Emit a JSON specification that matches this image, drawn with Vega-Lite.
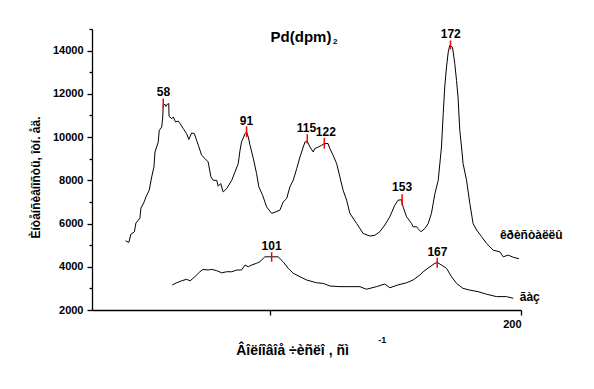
{
  "$schema": "https://vega.github.io/schema/vega-lite/v6.json",
  "width": 429,
  "height": 281,
  "autosize": {"type": "none"},
  "padding": {"left": 92, "top": 29, "right": 73, "bottom": 79},
  "background": "white",
  "config": {
    "view": {"stroke": null},
    "font": "Liberation Sans",
    "axis": {"grid": false, "domainColor": "black", "tickColor": "black", "labelColor": "black", "titleColor": "black", "labelFont": "Liberation Sans", "titleFont": "Liberation Sans", "labelFontWeight": "bold", "titleFontWeight": "bold", "domainWidth": 1.3, "tickWidth": 1.3}
  },
  "datasets": {
    "curves": [
      {"s": "crystal", "x": 42.4, "y": 5200}, {"s": "crystal", "x": 43.7, "y": 5130}, {"s": "crystal", "x": 44.5, "y": 5510}, {"s": "crystal", "x": 45.9, "y": 5620},
      {"s": "crystal", "x": 46.5, "y": 6020}, {"s": "crystal", "x": 48.1, "y": 6250}, {"s": "crystal", "x": 48.5, "y": 6710}, {"s": "crystal", "x": 49.8, "y": 7000},
      {"s": "crystal", "x": 50.5, "y": 7230}, {"s": "crystal", "x": 51.8, "y": 7540}, {"s": "crystal", "x": 52.8, "y": 8160}, {"s": "crystal", "x": 53.7, "y": 8620},
      {"s": "crystal", "x": 54.1, "y": 9310}, {"s": "crystal", "x": 55.4, "y": 9770}, {"s": "crystal", "x": 55.8, "y": 10310}, {"s": "crystal", "x": 56.8, "y": 10470},
      {"s": "crystal", "x": 57.2, "y": 10930}, {"s": "crystal", "x": 57.4, "y": 11470}, {"s": "crystal", "x": 58.1, "y": 11515}, {"s": "crystal", "x": 58.5, "y": 11420},
      {"s": "crystal", "x": 59.0, "y": 11515}, {"s": "crystal", "x": 59.6, "y": 11550}, {"s": "crystal", "x": 59.7, "y": 10960}, {"s": "crystal", "x": 60.8, "y": 10850},
      {"s": "crystal", "x": 61.4, "y": 10930}, {"s": "crystal", "x": 62.3, "y": 10700}, {"s": "crystal", "x": 63.4, "y": 10740}, {"s": "crystal", "x": 64.1, "y": 10620},
      {"s": "crystal", "x": 65.4, "y": 10390}, {"s": "crystal", "x": 66.7, "y": 10160}, {"s": "crystal", "x": 67.6, "y": 9890}, {"s": "crystal", "x": 68.7, "y": 10190},
      {"s": "crystal", "x": 69.8, "y": 10160}, {"s": "crystal", "x": 70.7, "y": 9850}, {"s": "crystal", "x": 71.4, "y": 9620}, {"s": "crystal", "x": 72.7, "y": 9160},
      {"s": "crystal", "x": 74.0, "y": 9010}, {"s": "crystal", "x": 75.3, "y": 8850}, {"s": "crystal", "x": 76.4, "y": 8160}, {"s": "crystal", "x": 77.3, "y": 8000},
      {"s": "crystal", "x": 78.7, "y": 8000}, {"s": "crystal", "x": 79.3, "y": 7730}, {"s": "crystal", "x": 80.3, "y": 7850}, {"s": "crystal", "x": 81.3, "y": 7460},
      {"s": "crystal", "x": 82.7, "y": 7620}, {"s": "crystal", "x": 84.7, "y": 8000}, {"s": "crystal", "x": 86.0, "y": 8390}, {"s": "crystal", "x": 87.3, "y": 8780},
      {"s": "crystal", "x": 88.0, "y": 9390}, {"s": "crystal", "x": 88.6, "y": 9770}, {"s": "crystal", "x": 90.0, "y": 10160}, {"s": "crystal", "x": 90.6, "y": 10240},
      {"s": "crystal", "x": 91.3, "y": 10000}, {"s": "crystal", "x": 92.0, "y": 9620}, {"s": "crystal", "x": 93.3, "y": 9010}, {"s": "crystal", "x": 94.6, "y": 8310},
      {"s": "crystal", "x": 95.5, "y": 7700}, {"s": "crystal", "x": 97.0, "y": 7310}, {"s": "crystal", "x": 98.6, "y": 6770}, {"s": "crystal", "x": 100.6, "y": 6470},
      {"s": "crystal", "x": 102.3, "y": 6540}, {"s": "crystal", "x": 103.9, "y": 6620}, {"s": "crystal", "x": 105.2, "y": 7000}, {"s": "crystal", "x": 106.6, "y": 7160},
      {"s": "crystal", "x": 107.9, "y": 7700}, {"s": "crystal", "x": 109.2, "y": 8000}, {"s": "crystal", "x": 110.6, "y": 8540}, {"s": "crystal", "x": 111.9, "y": 9080},
      {"s": "crystal", "x": 113.2, "y": 9540}, {"s": "crystal", "x": 113.9, "y": 9770}, {"s": "crystal", "x": 114.8, "y": 9800}, {"s": "crystal", "x": 115.9, "y": 9540},
      {"s": "crystal", "x": 117.2, "y": 9310}, {"s": "crystal", "x": 117.8, "y": 9470}, {"s": "crystal", "x": 119.2, "y": 9540}, {"s": "crystal", "x": 120.5, "y": 9620},
      {"s": "crystal", "x": 121.6, "y": 9700}, {"s": "crystal", "x": 123.1, "y": 9700}, {"s": "crystal", "x": 123.8, "y": 9470}, {"s": "crystal", "x": 125.1, "y": 9160},
      {"s": "crystal", "x": 126.5, "y": 8780}, {"s": "crystal", "x": 127.8, "y": 8160}, {"s": "crystal", "x": 129.1, "y": 7540}, {"s": "crystal", "x": 130.5, "y": 7080},
      {"s": "crystal", "x": 131.8, "y": 6470}, {"s": "crystal", "x": 134.5, "y": 6000}, {"s": "crystal", "x": 137.1, "y": 5540}, {"s": "crystal", "x": 139.8, "y": 5420},
      {"s": "crystal", "x": 141.8, "y": 5460}, {"s": "crystal", "x": 143.7, "y": 5620}, {"s": "crystal", "x": 145.7, "y": 5930}, {"s": "crystal", "x": 147.7, "y": 6310},
      {"s": "crystal", "x": 149.7, "y": 6850}, {"s": "crystal", "x": 151.0, "y": 7080}, {"s": "crystal", "x": 152.4, "y": 7100}, {"s": "crystal", "x": 153.0, "y": 6770},
      {"s": "crystal", "x": 154.4, "y": 6310}, {"s": "crystal", "x": 156.4, "y": 6000}, {"s": "crystal", "x": 157.0, "y": 5850}, {"s": "crystal", "x": 158.4, "y": 5850},
      {"s": "crystal", "x": 158.9, "y": 5770}, {"s": "crystal", "x": 160.1, "y": 5620}, {"s": "crystal", "x": 161.7, "y": 5770}, {"s": "crystal", "x": 163.0, "y": 6000},
      {"s": "crystal", "x": 164.3, "y": 6470}, {"s": "crystal", "x": 165.7, "y": 7390}, {"s": "crystal", "x": 167.0, "y": 8000}, {"s": "crystal", "x": 168.3, "y": 9540},
      {"s": "crystal", "x": 169.0, "y": 11090}, {"s": "crystal", "x": 169.6, "y": 12310}, {"s": "crystal", "x": 170.3, "y": 13240}, {"s": "crystal", "x": 171.0, "y": 13930},
      {"s": "crystal", "x": 171.6, "y": 14240}, {"s": "crystal", "x": 172.7, "y": 14160}, {"s": "crystal", "x": 173.6, "y": 13400}, {"s": "crystal", "x": 174.3, "y": 12620},
      {"s": "crystal", "x": 174.9, "y": 11850}, {"s": "crystal", "x": 175.6, "y": 10310}, {"s": "crystal", "x": 176.3, "y": 9540}, {"s": "crystal", "x": 176.9, "y": 8780},
      {"s": "crystal", "x": 178.3, "y": 8000}, {"s": "crystal", "x": 179.6, "y": 6930}, {"s": "crystal", "x": 180.9, "y": 6000}, {"s": "crystal", "x": 182.3, "y": 5700},
      {"s": "crystal", "x": 184.3, "y": 5390}, {"s": "crystal", "x": 186.3, "y": 5080}, {"s": "crystal", "x": 188.9, "y": 4770}, {"s": "crystal", "x": 191.6, "y": 4690},
      {"s": "crystal", "x": 192.9, "y": 4460}, {"s": "crystal", "x": 194.9, "y": 4540}, {"s": "crystal", "x": 196.9, "y": 4440}, {"s": "crystal", "x": 199.2, "y": 4370},
      {"s": "gas", "x": 61.0, "y": 3160}, {"s": "gas", "x": 62.8, "y": 3260}, {"s": "gas", "x": 64.7, "y": 3350}, {"s": "gas", "x": 66.7, "y": 3420},
      {"s": "gas", "x": 68.1, "y": 3350}, {"s": "gas", "x": 70.0, "y": 3540}, {"s": "gas", "x": 72.0, "y": 3770}, {"s": "gas", "x": 73.3, "y": 3880},
      {"s": "gas", "x": 75.3, "y": 3850}, {"s": "gas", "x": 76.7, "y": 3880}, {"s": "gas", "x": 78.7, "y": 3820}, {"s": "gas", "x": 80.7, "y": 3720},
      {"s": "gas", "x": 82.7, "y": 3770}, {"s": "gas", "x": 84.7, "y": 3770}, {"s": "gas", "x": 86.7, "y": 3850}, {"s": "gas", "x": 88.6, "y": 3850},
      {"s": "gas", "x": 90.0, "y": 4080}, {"s": "gas", "x": 91.3, "y": 4000}, {"s": "gas", "x": 92.6, "y": 4080}, {"s": "gas", "x": 94.6, "y": 4160},
      {"s": "gas", "x": 95.9, "y": 4230}, {"s": "gas", "x": 97.9, "y": 4460}, {"s": "gas", "x": 100.6, "y": 4460}, {"s": "gas", "x": 103.2, "y": 4460},
      {"s": "gas", "x": 105.2, "y": 4230}, {"s": "gas", "x": 107.2, "y": 3930}, {"s": "gas", "x": 109.2, "y": 3700}, {"s": "gas", "x": 111.9, "y": 3540},
      {"s": "gas", "x": 114.5, "y": 3390}, {"s": "gas", "x": 118.5, "y": 3260}, {"s": "gas", "x": 121.2, "y": 3230}, {"s": "gas", "x": 123.8, "y": 3110},
      {"s": "gas", "x": 127.8, "y": 3080}, {"s": "gas", "x": 131.8, "y": 3080}, {"s": "gas", "x": 135.8, "y": 3080}, {"s": "gas", "x": 138.4, "y": 2960},
      {"s": "gas", "x": 142.4, "y": 3080}, {"s": "gas", "x": 145.7, "y": 3200}, {"s": "gas", "x": 147.7, "y": 3030}, {"s": "gas", "x": 151.0, "y": 3160},
      {"s": "gas", "x": 154.4, "y": 3260}, {"s": "gas", "x": 157.0, "y": 3390}, {"s": "gas", "x": 159.7, "y": 3620}, {"s": "gas", "x": 161.0, "y": 3770},
      {"s": "gas", "x": 163.7, "y": 4000}, {"s": "gas", "x": 165.7, "y": 4160}, {"s": "gas", "x": 166.6, "y": 4200}, {"s": "gas", "x": 168.3, "y": 4080},
      {"s": "gas", "x": 170.3, "y": 3930}, {"s": "gas", "x": 172.3, "y": 3540}, {"s": "gas", "x": 174.3, "y": 3230}, {"s": "gas", "x": 176.9, "y": 3000},
      {"s": "gas", "x": 179.6, "y": 2920}, {"s": "gas", "x": 182.9, "y": 2850}, {"s": "gas", "x": 186.3, "y": 2730}, {"s": "gas", "x": 190.2, "y": 2620},
      {"s": "gas", "x": 194.2, "y": 2620}, {"s": "gas", "x": 196.9, "y": 2540}
    ],
    "peakMarks": [
      {"x": 57.4, "y": 11330, "y2": 11790}, {"x": 90.6, "y": 9990, "y2": 10500}, {"x": 171.9, "y": 14060, "y2": 14470},
      {"x": 114.8, "y": 9700, "y2": 10130}, {"x": 121.6, "y": 9470, "y2": 9960}, {"x": 152.6, "y": 6850, "y2": 7360},
      {"x": 100.6, "y": 4230, "y2": 4670}, {"x": 166.6, "y": 3950, "y2": 4420}
    ],
    "peakLabels": [
      {"label": "58", "x": 57.5, "y": 12070}, {"label": "91", "x": 90.6, "y": 10730}, {"label": "172", "x": 172.0, "y": 14750},
      {"label": "115", "x": 114.5, "y": 10440}, {"label": "122", "x": 122.2, "y": 10236}, {"label": "153", "x": 152.6, "y": 7668},
      {"label": "101", "x": 100.6, "y": 4970}, {"label": "167", "x": 166.7, "y": 4693}
    ],
    "seriesLabels": [
      {"label": "êðèñòàëëû", "x": 191.6, "y": 5464}, {"label": "ãàç", "x": 199.5, "y": 2601}
    ],
    "titleMain": [{"label": "Pd(dpm)", "x": 112.3, "y": 14610}],
    "titleSub": [{"label": "2", "x": 125.9, "y": 14400}],
    "unitSup": [{"label": "-1", "x": 144.7, "y": 614}]
  },
  "encoding": {
    "x": {
      "field": "x", "type": "quantitative",
      "scale": {"domain": [29, 200], "nice": false, "zero": false},
      "axis": {
        "values": [100, 200], "labelExpr": "datum.value == 200 ? '200' : ''",
        "tickSize": 5, "labelPadding": 3, "labelFontSize": 11,
        "title": "Âîëíîâîå ÷èñëî , ñì", "titleFontSize": 14,
        "titleX": 200, "titleY": 40, "titleBaseline": "middle", "titleAlign": "center"
      }
    },
    "y": {
      "field": "y", "type": "quantitative",
      "scale": {"domain": [2000, 15000], "nice": false, "zero": false},
      "axis": {
        "values": [2000, 3000, 4000, 5000, 6000, 7000, 8000, 9000, 10000, 11000, 12000, 13000, 14000, 15000],
        "labelExpr": "datum.value % 2000 === 0 ? format(datum.value, 'd') : ''",
        "tickSize": {"condition": {"test": "datum.value % 2000 === 0", "value": 5}, "value": 3},
        "labelPadding": 4, "labelFontSize": 11,
        "title": "Èíòåíñèâíîñòü, îòí. åä.", "titleFontSize": 12, "titleAngle": -90,
        "titleX": -57, "titleY": 148, "titleBaseline": "middle", "titleAlign": "center"
      }
    }
  },
  "layer": [
    {
      "data": {"name": "curves"},
      "mark": {"type": "line", "color": "black", "strokeWidth": 1, "interpolate": "linear"},
      "encoding": {"detail": {"field": "s", "type": "nominal"}}
    },
    {
      "data": {"name": "peakMarks"},
      "mark": {"type": "rule", "color": "#ff0000", "strokeWidth": 1.5},
      "encoding": {"y2": {"field": "y2"}}
    },
    {
      "data": {"name": "peakLabels"},
      "mark": {"type": "text", "font": "Liberation Sans", "fontWeight": "bold", "fontSize": 12, "color": "black", "align": "center", "baseline": "middle"},
      "encoding": {"text": {"field": "label"}}
    },
    {
      "data": {"name": "seriesLabels"},
      "mark": {"type": "text", "font": "Liberation Sans", "fontWeight": "bold", "fontSize": 12, "color": "black", "align": "left", "baseline": "middle"},
      "encoding": {"text": {"field": "label"}}
    },
    {
      "data": {"name": "titleMain"},
      "mark": {"type": "text", "font": "Liberation Sans", "fontWeight": "bold", "fontSize": 15, "color": "black", "align": "center", "baseline": "middle"},
      "encoding": {"text": {"field": "label"}}
    },
    {
      "data": {"name": "titleSub"},
      "mark": {"type": "text", "font": "Liberation Sans", "fontWeight": "bold", "fontSize": 8, "color": "black", "align": "center", "baseline": "middle"},
      "encoding": {"text": {"field": "label"}}
    },
    {
      "data": {"name": "unitSup"},
      "mark": {"type": "text", "font": "Liberation Sans", "fontWeight": "bold", "fontSize": 9, "color": "black", "align": "center", "baseline": "middle", "clip": false},
      "encoding": {"text": {"field": "label"}}
    }
  ]
}
